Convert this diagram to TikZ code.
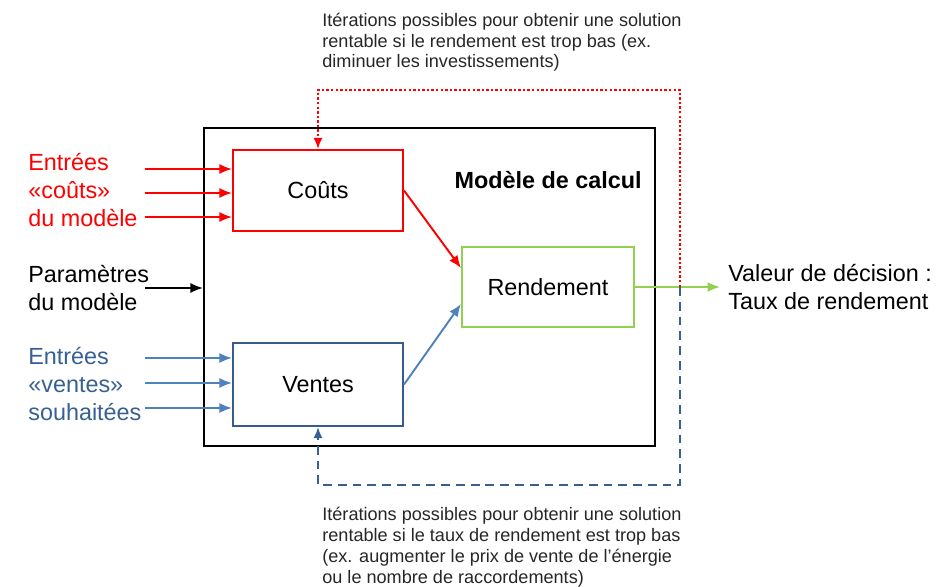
\documentclass[tikz,border=0pt]{standalone}
\usepackage{fontspec}
\setmainfont{Liberation Sans}
\usetikzlibrary{arrows.meta, positioning}

\definecolor{costred}{RGB}{255,0,0}
\definecolor{salesblue}{RGB}{79,129,189}
\definecolor{salesdark}{RGB}{56,93,138}
\definecolor{labelblue}{RGB}{54,96,146}
\definecolor{yieldgreen}{RGB}{146,208,80}

\tikzset{
  block/.style={draw, line width=1.2pt, minimum width=3.4cm, minimum height=1.62cm, font=\fontsize{13.3}{15.9}\selectfont},
  inlabel/.style={align=left, anchor=west, inner sep=0pt, font=\fontsize{13.3}{15.9}\selectfont},
  note/.style={align=left, anchor=north west, inner sep=0pt, font=\fontsize{10.3}{11.9}\selectfont, text=black!85},
  feed/.style={line width=1.1pt, -{Latex[length=2.5mm,width=2mm]}},
}

\begin{document}
\begin{tikzpicture}[x=0.02cm, y=-0.02cm]
\useasboundingbox (0,0) rectangle (938,587);

% calculation model frame
\node[draw, line width=1.2pt, minimum width=9.02cm, minimum height=6.36cm] (model) at (429.5,287) {};
\node[anchor=east, inner sep=0pt, font=\fontsize{13.3}{15.9}\selectfont\bfseries] (title) at (642,180) {Modèle de calcul};

% inner blocks
\node[block, draw=costred] (couts) at (318,190.5) {Coûts};
\node[block, draw=salesdark, minimum height=1.66cm] (ventes) at (318,384.5) {Ventes};
\node[block, draw=yieldgreen, minimum width=3.44cm, minimum height=1.6cm] (rend) at (548,287) {Rendement};

% inputs on the left
\node[inlabel, text=costred] (incost) at (28,190) {Entrées\\«coûts»\\du modèle};
\node[inlabel] (inparam) at (28,288) {Paramètres\\du modèle};
\node[inlabel, text=labelblue] (insales) at (28,384) {Entrées\\«ventes»\\souhaitées};

\foreach \yy in {169,193,217}
  \draw[feed, costred] (145,\yy) -- (couts.west |- 0,\yy);
\draw[feed, black] (145,288) -- (model.west |- 0,288);
\foreach \yy in {358,383,408}
  \draw[feed, salesblue] (145,\yy) -- (ventes.west |- 0,\yy);

% blocks feeding the yield
\draw[feed, costred] (couts.east) -- ([yshift=0.38cm]rend.west);
\draw[feed, salesblue] (ventes.east) -- ([yshift=-0.34cm]rend.west);

% decision value
\coordinate (out) at (720,287);
\draw[feed, yieldgreen] (rend.east) -- (out);
\node[inlabel] (decision) at (728,287) {Valeur de décision :\\Taux de rendement};

% iteration loops
\coordinate (fb) at (680,287);
\draw[line width=1.1pt, costred, dash pattern=on 1.4pt off 1.2pt, -{Latex[length=2.2mm,width=1.8mm]}]
  (fb) -- ++(0,-197) -| (couts.north);
\draw[line width=1.1pt, labelblue, dash pattern=on 5pt off 3.4pt, -{Latex[length=2.2mm,width=1.8mm]}]
  (fb) -- ++(0,198) -| (ventes.south);

\node[note] (itertop) at (322,12.5) {Itérations possibles pour obtenir une solution\\rentable si le rendement est trop bas (ex.\\diminuer les investissements)};
\node[note] (iterbot) at (322,507) {Itérations possibles pour obtenir une solution\\rentable si le taux de rendement est trop bas\\(ex. augmenter le prix de vente de l’énergie\\ou le nombre de raccordements)};
\end{tikzpicture}
\end{document}
